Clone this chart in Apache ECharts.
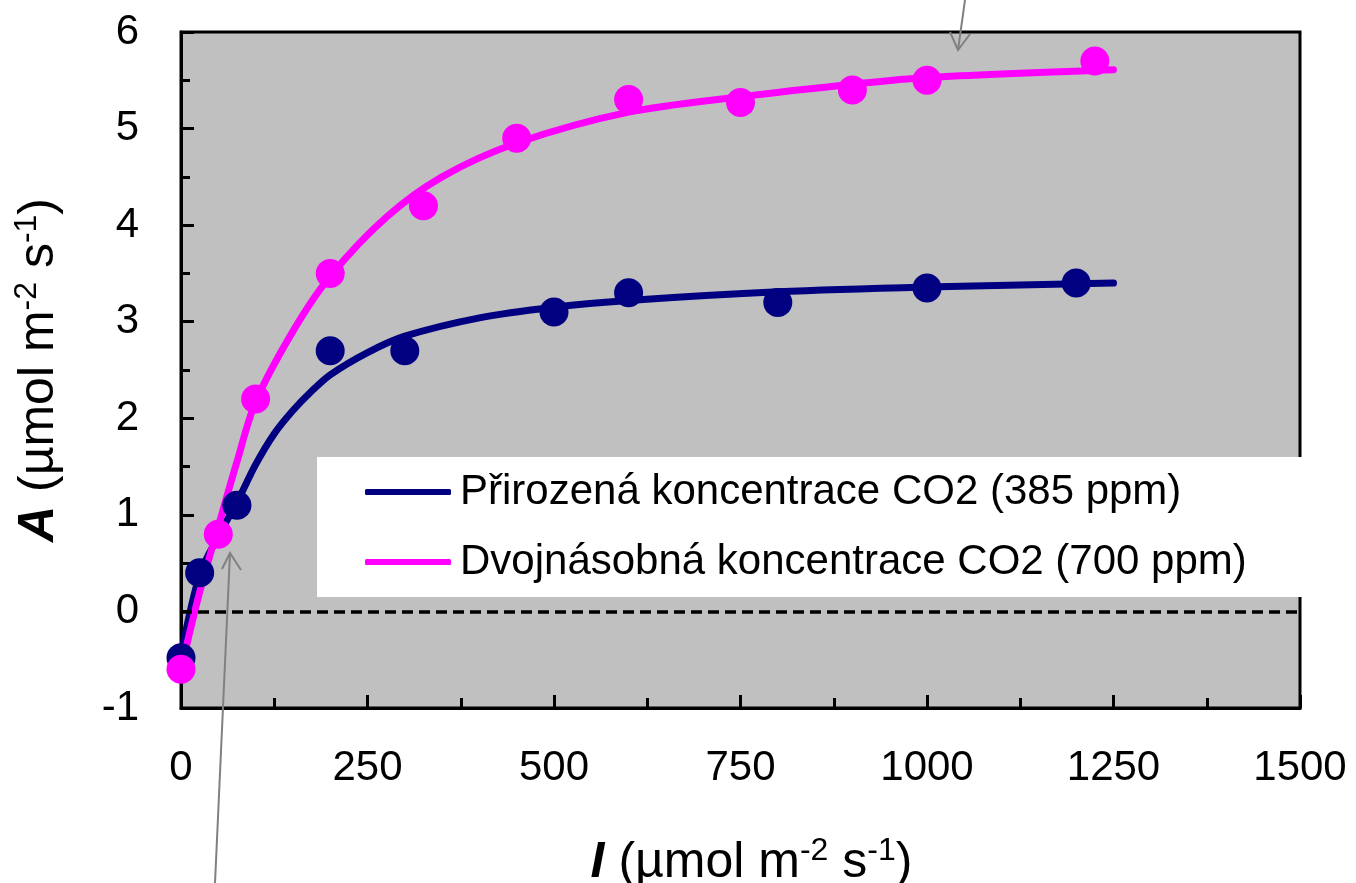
<!DOCTYPE html>
<html>
<head>
<meta charset="utf-8">
<script src="https://cdn.jsdelivr.net/npm/echarts@6/dist/echarts.min.js"></script>
<style>
html,body{margin:0;padding:0;background:#fff;}
#chart{width:1356px;height:883px;}
</style>
</head>
<body>
<div id="chart"></div>
<script>
// ---- Data ----
const seriesNames = ['Přirozená koncentrace CO2 (385 ppm)', 'Dvojnásobná koncentrace CO2 (700 ppm)'];

// measured points (I, A)
const ambientI = [0, 25, 75, 200, 300, 500, 600, 800, 1000, 1200];
const ambientA = [-0.48, 0.4, 1.1, 2.7, 2.7, 3.1, 3.3, 3.2, 3.35, 3.4];
const doubleI  = [0, 50, 100, 200, 325, 450, 600, 750, 900, 1000, 1225];
const doubleA  = [-0.6, 0.8, 2.2, 3.5, 4.2, 4.9, 5.3, 5.27, 5.4, 5.5, 5.7];

// fitted curves
const ambientFitI = [0, 25, 50, 75, 100, 125, 150, 175, 200, 250, 300, 400, 500, 600, 800, 1000, 1250];
const ambientFitA = [-0.45, 0.38, 0.78, 1.13, 1.52, 1.84, 2.08, 2.28, 2.45, 2.68, 2.85, 3.04, 3.15, 3.22, 3.31, 3.36, 3.4];
const doubleFitI  = [0, 25, 50, 75, 100, 150, 200, 275, 350, 450, 600, 750, 900, 1000, 1250];
const doubleFitA  = [-0.6, 0.2, 0.88, 1.55, 2.17, 2.9, 3.47, 4.08, 4.5, 4.85, 5.17, 5.33, 5.46, 5.53, 5.61];

const xTicks = [0, 250, 500, 750, 1000, 1250, 1500];
const yTicks = [-1, 0, 1, 2, 3, 4, 5, 6];

const navy = '#000080';
const magenta = '#FF00FF';
const FONT = '"Liberation Sans", Arial, sans-serif';

const pairs = (xs, ys) => xs.map((x, i) => [x, ys[i]]);

const chart = echarts.init(document.getElementById('chart'), null, {renderer: 'canvas'});

const nameRich = {
  b: {fontFamily: FONT, fontSize: 50, fontWeight: 'bold', fontStyle: 'italic', color: '#000', lineHeight: 56},
  n: {fontFamily: FONT, fontSize: 50, color: '#000', lineHeight: 56},
  s: {fontFamily: FONT, fontSize: 32, color: '#000', lineHeight: 32, verticalAlign: 'top'}
};
const unitLabel = (v) => '{b|' + v + '}{n| (µmol m}{s|-2}{n| s}{s|-1}{n|)}';

chart.setOption({
  animation: false,
  backgroundColor: '#fff',
  grid: {
    left: 181, right: 56, top: 32, bottom: 175,
    outerBoundsMode: 'none', containLabel: false,
    show: true, backgroundColor: '#C0C0C0', borderColor: '#000', borderWidth: 3
  },
  legend: {
    data: seriesNames,
    orient: 'vertical',
    left: 317, top: 457,
    padding: [14, 56, 14, 48],
    itemGap: 28,
    itemWidth: 86, itemHeight: 6,
    icon: 'roundRect',
    backgroundColor: '#fff',
    textStyle: {fontFamily: FONT, fontSize: 42, color: '#000', padding: [0, 0, 0, 4]}
  },
  xAxis: {
    type: 'value', min: xTicks[0], max: xTicks[xTicks.length - 1], interval: 250,
    name: unitLabel('I'), nameLocation: 'middle', nameGap: 127,
    nameTextStyle: {rich: nameRich, padding: [0, 0, 0, 22]},
    axisLine: {show: true, onZero: false, lineStyle: {color: '#000', width: 3}},
    axisTick: {show: true, inside: true, length: 13, lineStyle: {color: '#000', width: 3}},
    minorTick: {show: true, splitNumber: 2, length: 10, lineStyle: {color: '#000', width: 3}},
    splitLine: {show: false},
    axisLabel: {fontFamily: FONT, fontSize: 42, color: '#000', margin: 39, formatter: (v) => String(v)}
  },
  yAxis: {
    type: 'value', min: yTicks[0], max: yTicks[yTicks.length - 1], interval: 1,
    name: unitLabel('A'), nameLocation: 'middle', nameGap: 114,
    nameTextStyle: {rich: nameRich},
    axisLine: {show: true, onZero: false, lineStyle: {color: '#000', width: 3}},
    axisTick: {show: true, inside: true, length: 13, lineStyle: {color: '#000', width: 3}},
    minorTick: {show: true, splitNumber: 2, length: 9, lineStyle: {color: '#000', width: 3}},
    splitLine: {show: false},
    axisLabel: {fontFamily: FONT, fontSize: 42, color: '#000', margin: 42, formatter: (v) => String(v)}
  },
  series: [
    {
      name: seriesNames[0], type: 'line', data: pairs(ambientFitI, ambientFitA),
      smooth: 0.3, showSymbol: false, symbol: 'none', z: 3,
      itemStyle: {color: navy},
      lineStyle: {color: navy, width: 7, cap: 'round'},
      markLine: {
        silent: true, symbol: 'none', label: {show: false},
        lineStyle: {color: '#000', width: 3.5, type: [11, 6]},
        data: [{yAxis: 0}]
      }
    },
    {
      name: seriesNames[1], type: 'line', data: pairs(doubleFitI, doubleFitA),
      smooth: 0.3, showSymbol: false, symbol: 'none', z: 3,
      itemStyle: {color: magenta},
      lineStyle: {color: magenta, width: 7, cap: 'round'}
    },
    {
      name: 'ambient-points', type: 'scatter', data: pairs(ambientI, ambientA),
      symbolSize: 29, z: 4, itemStyle: {color: navy, opacity: 1}
    },
    {
      name: 'double-points', type: 'scatter', data: pairs(doubleI, doubleA),
      symbolSize: 29, z: 5, itemStyle: {color: magenta, opacity: 1}
    }
  ],
  graphic: [
    {type: 'polyline', z: 100, shape: {points: [[965, 0], [958, 50]]}, style: {stroke: '#808080', lineWidth: 2, fill: null}},
    {type: 'polyline', z: 100, shape: {points: [[950, 32], [958, 50], [970, 34]]}, style: {stroke: '#808080', lineWidth: 2, fill: null}},
    {type: 'polyline', z: 100, shape: {points: [[215, 883], [230, 553]]}, style: {stroke: '#808080', lineWidth: 2, fill: null}},
    {type: 'polyline', z: 100, shape: {points: [[222, 569], [230, 553], [241, 570]]}, style: {stroke: '#808080', lineWidth: 2, fill: null}}
  ]
});
</script>
</body>
</html>
